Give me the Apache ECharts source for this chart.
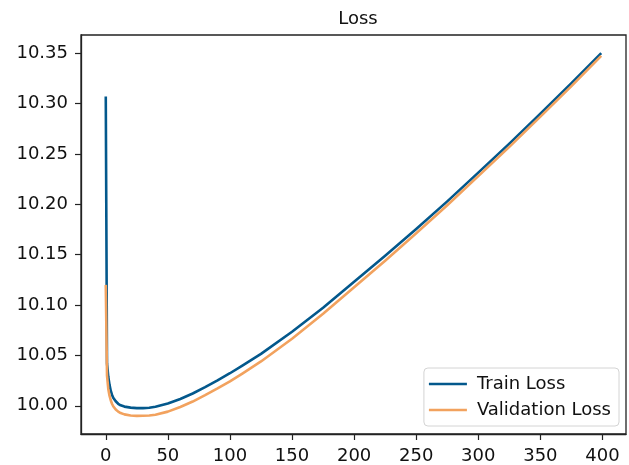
<!DOCTYPE html>
<html>
<head>
<meta charset="utf-8">
<script src="https://cdn.jsdelivr.net/npm/echarts@6/dist/echarts.min.js"></script>
<style>
  html, body { margin: 0; padding: 0; background: #ffffff; }
  #chart { width: 629px; height: 465px; }
</style>
</head>
<body>
<div id="chart"></div>
<script>
// Loss curves per epoch
const epochs = [0, 1, 2, 3, 4, 5, 6, 8, 10, 12, 15, 20, 25, 30, 35, 40, 50, 60, 70, 80, 90,
  100, 110, 125, 150, 175, 200, 225, 250, 275, 300, 325, 350, 375, 399];

const trainLoss = [10.307, 10.042, 10.029, 10.021, 10.015, 10.011, 10.008, 10.0045, 10.002,
  10.0005, 9.9992, 9.9982, 9.9977, 9.9977, 9.9981, 9.9990, 10.0022, 10.0068, 10.0122,
  10.0185, 10.0252, 10.0323, 10.0398, 10.0515, 10.0735, 10.0973, 10.1231, 10.1488,
  10.1754, 10.2029, 10.2314, 10.2602, 10.2900, 10.3201, 10.3500];

const valLoss = [10.120, 10.030, 10.017, 10.010, 10.0055, 10.002, 9.9995, 9.9963, 9.9942,
  9.9928, 9.9915, 9.9904, 9.9900, 9.9901, 9.9904, 9.9911, 9.9942, 9.9988, 10.0042,
  10.0105, 10.0172, 10.0243, 10.0320, 10.0440, 10.0665, 10.0913, 10.1176, 10.1440,
  10.1712, 10.1991, 10.2279, 10.2570, 10.2870, 10.3172, 10.3472];

const xTicks = [0, 50, 100, 150, 200, 250, 300, 350, 400];
const yTicks = [10.00, 10.05, 10.10, 10.15, 10.20, 10.25, 10.30, 10.35];

const seriesNames = ['Train Loss', 'Validation Loss'];
const seriesColors = ['#03588c', '#f2a25e'];

const FONT = 'DejaVu Sans';
const FONT_SIZE = 18;
const TEXT_COLOR = '#111111';
const AXIS_COLOR = '#222222';

const zip = (xs, ys) => xs.map((x, i) => [x, ys[i]]);

const chart = echarts.init(document.getElementById('chart'), null, { renderer: 'canvas' });

chart.setOption({
  animation: false,
  backgroundColor: '#ffffff',
  textStyle: { fontFamily: FONT },
  title: {
    text: 'Loss',
    left: 353,
    top: 5,
    textAlign: 'center',
    textStyle: { fontFamily: FONT, fontSize: FONT_SIZE, fontWeight: 'normal', color: TEXT_COLOR }
  },
  grid: {
    left: 81, right: 3, top: 35, bottom: 31,
    show: true,
    borderColor: AXIS_COLOR,
    borderWidth: 1.3,
    backgroundColor: 'transparent'
  },
  legend: {
    orient: 'vertical',
    right: 10,
    bottom: 39,
    data: seriesNames,
    icon: 'rect',
    itemWidth: 38,
    itemHeight: 2.5,
    itemGap: 8,
    padding: [7, 8, 7, 5],
    backgroundColor: 'rgba(255,255,255,0.85)',
    borderColor: '#d4d4d4',
    borderWidth: 1,
    borderRadius: 4,
    textStyle: { fontFamily: FONT, fontSize: FONT_SIZE, color: TEXT_COLOR, padding: [0, 0, 0, 5] }
  },
  xAxis: {
    type: 'value',
    min: -19.95,
    max: 418.95,
    splitLine: { show: false },
    axisLine: { show: true, onZero: false, lineStyle: { color: AXIS_COLOR, width: 1.3 } },
    axisTick: { show: true, length: 6, customValues: xTicks, lineStyle: { color: AXIS_COLOR, width: 1.2 } },
    axisLabel: {
      customValues: xTicks,
      margin: 13,
      fontFamily: FONT, fontSize: FONT_SIZE, color: TEXT_COLOR
    }
  },
  yAxis: {
    type: 'value',
    min: 9.972,
    max: 10.368,
    splitLine: { show: false },
    axisLine: { show: true, onZero: false, lineStyle: { color: AXIS_COLOR, width: 1.3 } },
    axisTick: { show: true, length: 6, customValues: yTicks, lineStyle: { color: AXIS_COLOR, width: 1.2 } },
    axisLabel: {
      customValues: yTicks,
      margin: 13,
      fontFamily: FONT, fontSize: FONT_SIZE, color: TEXT_COLOR,
      formatter: v => v.toFixed(2)
    }
  },
  series: [
    {
      name: seriesNames[0],
      type: 'line',
      data: zip(epochs, trainLoss),
      showSymbol: false,
      smooth: false,
      lineStyle: { color: seriesColors[0], width: 2.6, join: 'round' },
      itemStyle: { color: seriesColors[0] }
    },
    {
      name: seriesNames[1],
      type: 'line',
      data: zip(epochs, valLoss),
      showSymbol: false,
      smooth: false,
      lineStyle: { color: seriesColors[1], width: 2.6, join: 'round' },
      itemStyle: { color: seriesColors[1] }
    }
  ]
});
</script>
</body>
</html>
